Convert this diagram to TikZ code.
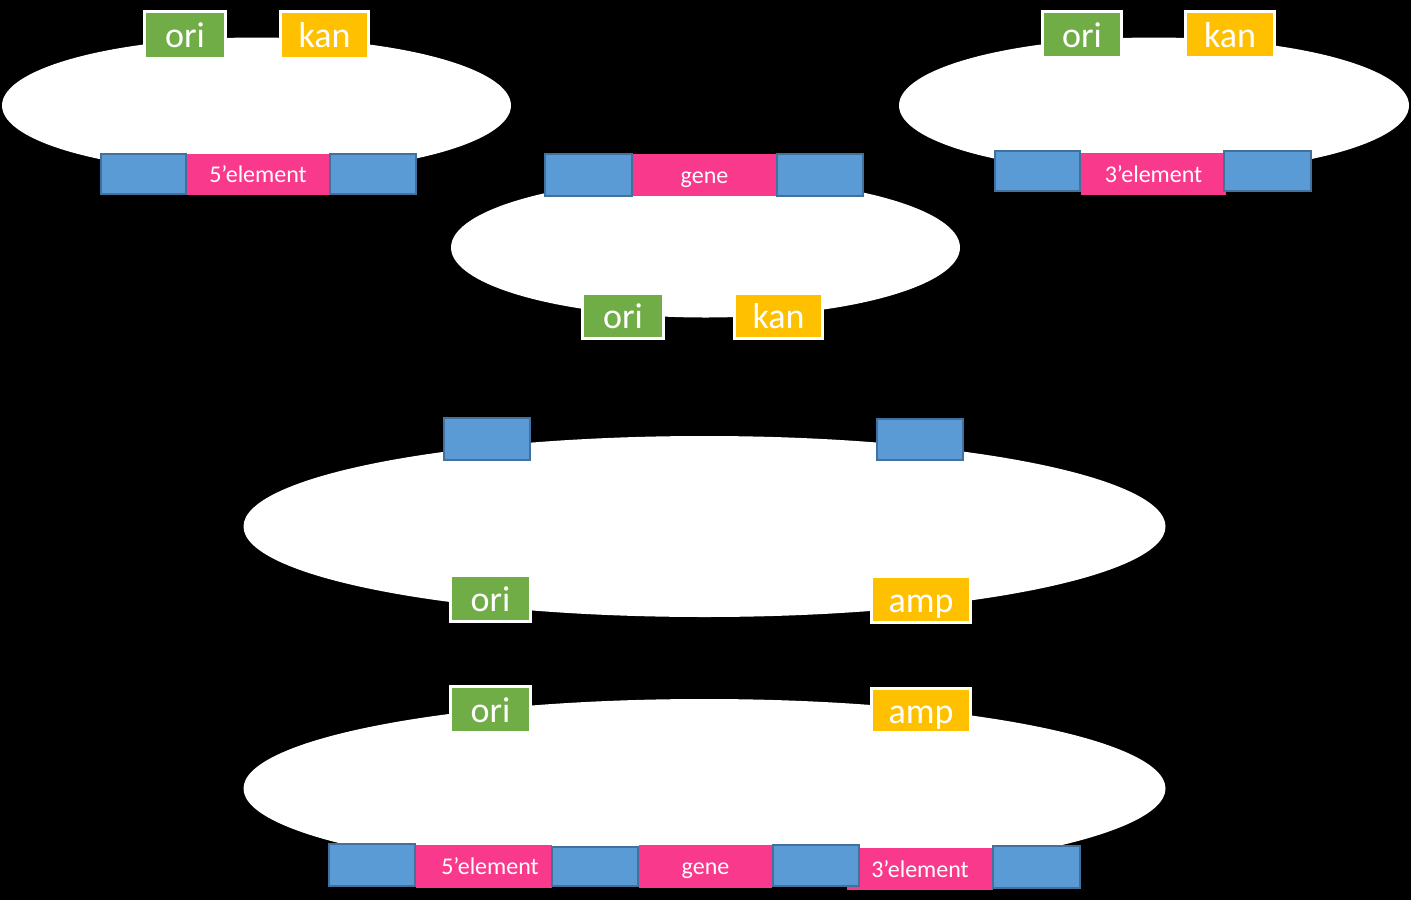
\documentclass[tikz,border=0pt]{standalone}
\usepackage{fontspec}
\setmainfont{Carlito}
\usetikzlibrary{shapes.geometric}
\definecolor{origreen}{RGB}{112,173,71}
\definecolor{kanyellow}{RGB}{255,192,0}
\definecolor{flankblue}{RGB}{91,155,213}
\definecolor{flankedge}{RGB}{65,113,156}
\definecolor{segpink}{RGB}{249,57,139}
\tikzset{
  plasmid/.style={ellipse, fill=white, draw=none, inner sep=0pt, outer sep=0pt},
  markerbox/.style={rectangle, draw=white, line width=3pt, text=white, inner sep=0pt,
    font=\fontsize{36}{40}\selectfont, text height=25pt, text depth=0pt},
  orib/.style={markerbox, fill=origreen},
  kanb/.style={markerbox, fill=kanyellow},
  flank/.style={rectangle, fill=flankblue, draw=flankedge, line width=2pt, inner sep=0pt},
  seg/.style={rectangle, fill=segpink, draw=none, inner sep=0pt, text=white,
    font=\fontsize{24}{28}\selectfont, text height=16pt, text depth=0pt},
}
\begin{document}
\begin{tikzpicture}[x=1pt,y=-1pt]
\useasboundingbox (0,0) rectangle (1411,900);
\fill[black] (0,0) rectangle (1411,900);

% plasmid 1 (5' element)
\node[plasmid, minimum width=509pt, minimum height=136pt] (e1) at (256.5,105.5) {};
\node[seg, minimum width=142pt, minimum height=41pt] (p1) at (258,174.5) {5’element};
\node[flank, minimum width=85pt, minimum height=40pt] (b1l) at (143.5,174) {};
\node[flank, minimum width=86pt, minimum height=40pt] (b1r) at (373,174) {};
\node[orib, minimum width=81pt, minimum height=47pt] (o1) at (185,35) {ori};
\node[kanb, minimum width=88pt, minimum height=47pt] (k1) at (324.5,35) {kan};

% plasmid 2 (gene)
\node[plasmid, minimum width=509pt, minimum height=140pt] (e2) at (705.5,247.5) {};
\node[seg, minimum width=143pt, minimum height=42pt] (p2) at (704.5,175) {gene};
\node[flank, minimum width=87pt, minimum height=42pt] (b2l) at (588.5,175) {};
\node[flank, minimum width=86pt, minimum height=42pt] (b2r) at (820,175) {};
\node[orib, minimum width=81pt, minimum height=45pt] (o2) at (623,316) {ori};
\node[kanb, minimum width=88pt, minimum height=45pt] (k2) at (778.5,316) {kan};

% plasmid 3 (3' element)
\node[plasmid, minimum width=510pt, minimum height=136pt] (e3) at (1154,105.5) {};
\node[seg, minimum width=145pt, minimum height=42pt] (p3) at (1153.5,174) {3’element};
\node[flank, minimum width=85pt, minimum height=40pt] (b3l) at (1037.5,171) {};
\node[flank, minimum width=87pt, minimum height=40pt] (b3r) at (1267.5,171) {};
\node[orib, minimum width=79pt, minimum height=46pt] (o3) at (1082,34.5) {ori};
\node[kanb, minimum width=89pt, minimum height=46pt] (k3) at (1230,34.5) {kan};

% plasmid 4 (destination vector)
\node[plasmid, minimum width=922pt, minimum height=181pt] (e4) at (704.5,526.5) {};
\node[flank, minimum width=86pt, minimum height=42pt] (b4l) at (487,439) {};
\node[flank, minimum width=86pt, minimum height=41pt] (b4r) at (920,439.5) {};
\node[orib, minimum width=80pt, minimum height=46pt] (o4) at (490.5,598.5) {ori};
\node[kanb, minimum width=99pt, minimum height=46pt] (a4) at (921,599.5) {amp};

% plasmid 5 (assembled)
\node[plasmid, minimum width=922pt, minimum height=179pt] (e5) at (704.5,788.5) {};
\node[orib, minimum width=80pt, minimum height=46pt] (o5) at (490.5,709.5) {ori};
\node[kanb, minimum width=99pt, minimum height=44pt] (a5) at (921,710.5) {amp};
\node[seg, minimum width=136pt, minimum height=43pt] (p5a) at (484,866.5) {\hspace*{12pt}5’element};
\node[seg, minimum width=133pt, minimum height=43pt] (p5b) at (705.5,866.5) {gene};
\node[seg, minimum width=146pt, minimum height=42pt] (p5c) at (920,869) {3’element};
\node[flank, minimum width=86pt, minimum height=42pt] (b5a) at (372,865) {};
\node[flank, minimum width=86pt, minimum height=39pt] (b5b) at (595,866.5) {};
\node[flank, minimum width=86pt, minimum height=41pt] (b5c) at (816,865.5) {};
\node[flank, minimum width=87pt, minimum height=42pt] (b5d) at (1036.5,867) {};
\end{tikzpicture}
\end{document}
